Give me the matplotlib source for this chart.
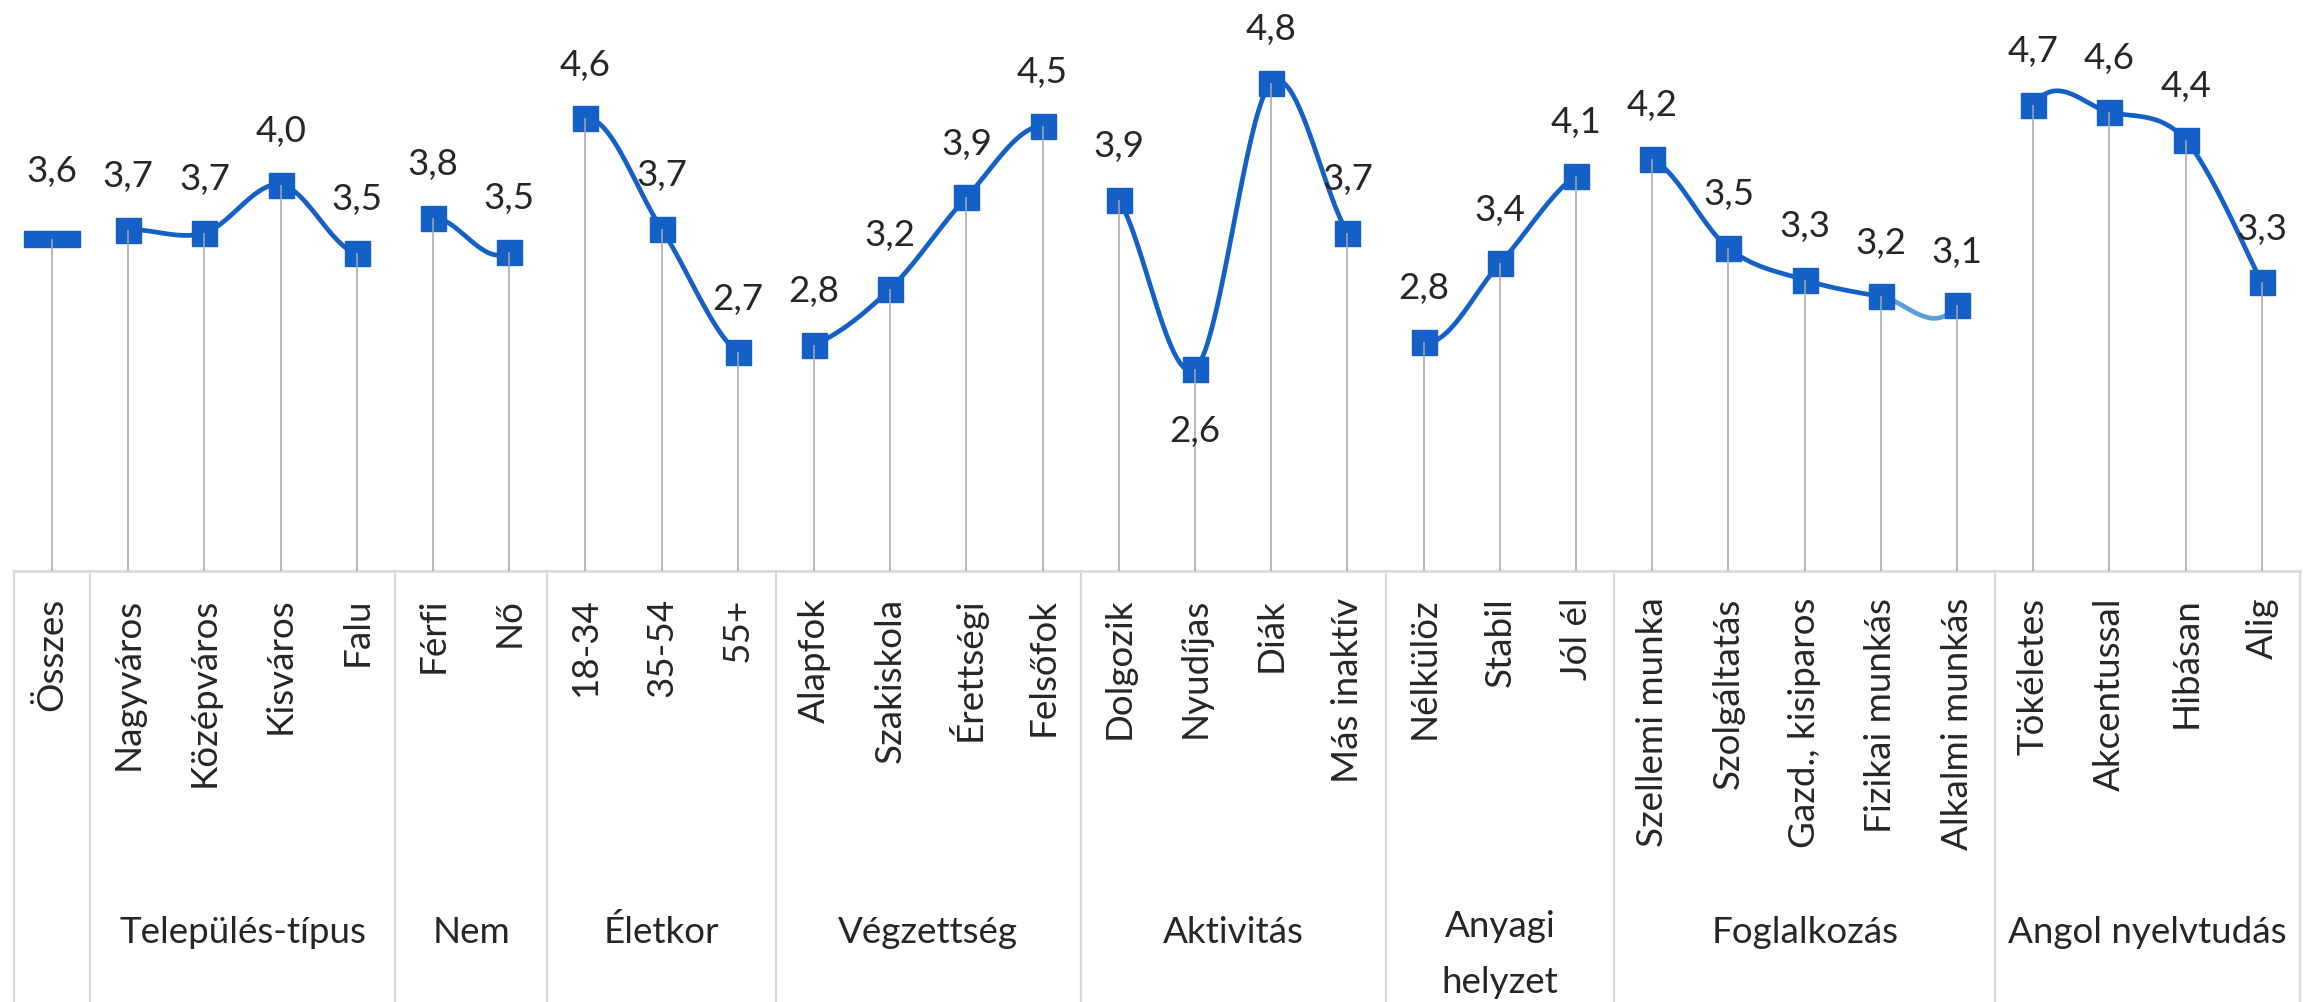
import numpy as np
import matplotlib.pyplot as plt
from matplotlib.path import Path

plt.rcParams['font.family'] = ['Lato', 'DejaVu Sans']

# data
groups = ['', 'Település-típus', 'Nem', 'Életkor', 'Végzettség', 'Aktivitás',
          'Anyagi\nhelyzet', 'Foglalkozás', 'Angol nyelvtudás']
group_sizes = [1, 4, 2, 3, 4, 4, 3, 5, 4]
categories = ['Összes',
              'Nagyváros', 'Középváros', 'Kisváros', 'Falu',
              'Férfi', 'Nő',
              '18-34', '35-54', '55+',
              'Alapfok', 'Szakiskola', 'Érettségi', 'Felsőfok',
              'Dolgozik', 'Nyudíjas', 'Diák', 'Más inaktív',
              'Nélkülöz', 'Stabil', 'Jól él',
              'Szellemi munka', 'Szolgáltatás', 'Gazd., kisiparos', 'Fizikai munkás', 'Alkalmi munkás',
              'Tökéletes', 'Akcentussal', 'Hibásan', 'Alig']
values = [3.61,
          3.685, 3.66, 4.04, 3.50,
          3.78, 3.51,
          4.56, 3.69, 2.72,
          2.78, 3.22, 3.94, 4.50,
          3.92, 2.59, 4.84, 3.66,
          2.80, 3.42, 4.11,
          4.24, 3.54, 3.29, 3.16, 3.09,
          4.67, 4.61, 4.39, 3.27]

blue = '#1560C6'
light_blue = '#5B9FDA'
txt = '#262626'
grid_c = '#D9D9D9'

x = np.arange(len(values))
y = np.array(values, dtype=float)

fig = plt.figure(figsize=(23.18, 10.03), dpi=100)
ax = fig.add_axes([13.9 / 2318, 431 / 1003, (2300 - 13.9) / 2318, 572 / 1003])
ax.set_xlim(-0.5, len(values) - 0.5)
ax.set_ylim(1, 5.5)
for s in ['left', 'right', 'top']:
    ax.spines[s].set_visible(False)
ax.spines['bottom'].set_color(grid_c)
ax.spines['bottom'].set_linewidth(2)
ax.set_xticks([])
ax.set_yticks([])

# smoothed line (Excel-like bezier over the whole series, drawn per group)
P = np.column_stack([x, y])
Pext = np.vstack([P[0], P, P[-1]])
starts = np.cumsum([0] + group_sizes[:-1])
t = np.linspace(0, 1, 40)[:, None]
for g0, n in zip(starts, group_sizes):
    for i in range(g0, g0 + n - 1):
        p0, p1, p2, p3 = Pext[i], Pext[i + 1], Pext[i + 2], Pext[i + 3]
        c1 = p1 + (p2 - p0) / 6
        c2 = p2 - (p3 - p1) / 6
        curve = ((1 - t) ** 3) * p1 + 3 * ((1 - t) ** 2) * t * c1 + 3 * (1 - t) * t ** 2 * c2 + t ** 3 * p2
        col = light_blue if categories[i] == 'Fizikai munkás' else blue
        ax.plot(curve[:, 0], curve[:, 1], color=col, lw=3.4, solid_capstyle='round', zorder=3)

# markers
ax.plot(x[1:], y[1:], ls='none', marker='s', ms=18, color=blue, mec=blue, mew=1, zorder=4)
wide = Path([(-1, -0.27), (1, -0.27), (1, 0.27), (-1, 0.27), (-1, -0.27)])
ax.plot(x[:1], y[:1], ls='none', marker=wide, ms=40, color=blue, mec=blue, mew=1, zorder=4)

# drop lines
ax.vlines(x, 1, y, color='#A6A6A6', lw=1.1, zorder=5)

# value labels
for i, v in enumerate(values):
    lab = f'{v:.1f}'.replace('.', ',')
    if categories[i] == 'Nyudíjas':
        off = -52
    elif i == 0:
        off = 42
    else:
        off = 31.5
    ax.annotate(lab, (x[i], v), xytext=(0, off), textcoords='offset points',
                ha='center', va='baseline', fontsize=26.5, color=txt, zorder=6)

# category labels
for i, c in enumerate(categories):
    ax.annotate(c, (x[i], 0), xycoords=('data', 'axes fraction'), xytext=(0, -18.5),
                textcoords='offset points', rotation=90, ha='center', va='top',
                fontsize=26.5, color=txt)

# group separators and labels
trans = ax.get_xaxis_transform()
bottom = -431 / 572
edges = np.concatenate([[0], np.cumsum(group_sizes)]) - 0.5
for e in edges:
    ax.plot([e, e], [0, bottom], color=grid_c, lw=1.6, transform=trans, clip_on=False)
for g, e0, e1 in zip(groups, edges[:-1], edges[1:]):
    if g:
        nl = g.count('\n')
        ax.annotate(g, ((e0 + e1) / 2, 0), xycoords=('data', 'axes fraction'),
                    xytext=(0, -267 - 36 * nl),
                    textcoords='offset points', ha='center', va='baseline',
                    fontsize=26.5, color=txt, linespacing=1.85)

fig.savefig('out.png', dpi=100)
